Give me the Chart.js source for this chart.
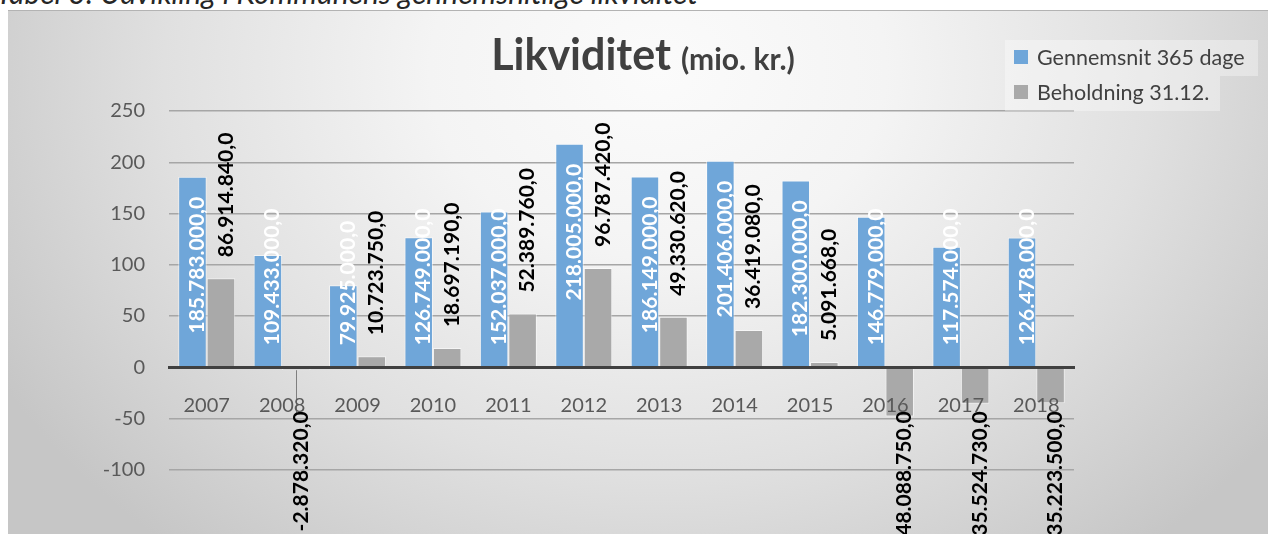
<!DOCTYPE html>
<html>
<head>
<meta charset="utf-8">
<script src="https://cdn.jsdelivr.net/npm/chart.js@4.4.0/dist/chart.umd.min.js"></script>
<style>
  html, body { margin: 0; padding: 0; width: 1268px; height: 534px; overflow: hidden; background: #fff; }
  #caption { position: absolute; left: -4px; top: -23px; font: italic 30px Lato, sans-serif; line-height: 30px; color: #262626; white-space: nowrap; }
  #bg { position: absolute; left: 8px; top: 10px; width: 1260px; height: 560px; border-top: 1px solid #b3b3b3;
        background: radial-gradient(ellipse 760px 620px at 650px 60px, #fbfbfb 0%, #f4f4f4 30%, #e0e0e0 65%, #c6c6c6 100%); }
  #wrap { position: absolute; left: 8px; top: 10px; width: 1260px; height: 560px; }
</style>
</head>
<body>
<div id="caption">Tabel 3: Udvikling i Kommunens gennemsnitlige likviditet</div>
<div id="bg"></div>
<div id="wrap"><canvas id="chart" width="1260" height="560"></canvas></div>
<script>
// --- Data (mio. kr.) ---
const years = ["2007", "2008", "2009", "2010", "2011", "2012", "2013", "2014", "2015", "2016", "2017", "2018"];
const avg365 = [185.783, 109.433, 79.925, 126.749, 152.037, 218.005, 186.149, 201.406, 182.3, 146.779, 117.574, 126.478];
const holding = [86.91484, -2.87832, 10.72375, 18.69719, 52.38976, 96.78742, 49.33062, 36.41908, 5.091668, -48.08875, -35.52473, -35.2235];
const yTicks = [250, 200, 150, 100, 50, 0, -50, -100];
const seriesNames = ["Gennemsnit 365 dage", "Beholdning 31.12."];
const seriesColors = ["#6fa6d9", "#a9a9a9"];
const titleMain = "Likviditet";
const titleSub = "(mio. kr.)";

const FONT = "Lato, sans-serif";

// mio. -> "185.783.000,0"
function fmtKr(v) {
  const n = Math.round(v * 1e6);
  const s = Math.abs(n).toString().replace(/\B(?=(\d{3})+(?!\d))/g, ".");
  return (n < 0 ? "-" : "") + s + ",0";
}

// --- Bar value labels (rotated, Excel style) + title + legend ---
const barLabels = {
  id: "barLabels",
  afterDatasetsDraw(chart) {
    const ctx = chart.ctx;
    const zeroY = chart.scales.y.getPixelForValue(0);
    ctx.save();
    ctx.font = "bold 21px " + FONT;
    ctx.textAlign = "left";
    ctx.textBaseline = "alphabetic";
    const capH = 21 * 0.72;
    chart.data.datasets.forEach((ds, di) => {
      chart.getDatasetMeta(di).data.forEach((bar, i) => {
        const v = ds.data[i];
        const txt = fmtKr(v);
        const w = ctx.measureText(txt).width;
        let start;
        if (di === 0) {
          // inside end, but keep clear of the axis
          start = Math.min(bar.y + 20 + w, zeroY - 22);
          ctx.fillStyle = "#ffffff";
        } else if (v >= 0) {
          start = bar.y - 21;
          ctx.fillStyle = "#000000";
        } else {
          const top = Math.max(bar.y - 13, zeroY + 44);
          if (top - bar.y > 20) {
            // leader line
            ctx.strokeStyle = "#7f7f7f";
            ctx.lineWidth = 1;
            ctx.beginPath();
            ctx.moveTo(Math.round(bar.x) + 0.5, bar.y);
            ctx.lineTo(Math.round(bar.x) + 0.5, top + 4);
            ctx.stroke();
          }
          start = top + w;
          ctx.fillStyle = "#000000";
        }
        ctx.save();
        ctx.translate(bar.x + 4 + capH / 2, start);
        ctx.rotate(-Math.PI / 2);
        ctx.fillText(txt, 0, 0);
        ctx.restore();
      });
    });
    ctx.restore();
  },
  afterDraw(chart) {
    const ctx = chart.ctx;
    ctx.save();
    // title (two sizes)
    ctx.fillStyle = "#404040";
    ctx.textBaseline = "alphabetic";
    ctx.textAlign = "left";
    ctx.font = "bold 43px " + FONT;
    const w1 = ctx.measureText(titleMain).width;
    ctx.font = "bold 30px " + FONT;
    const w2 = ctx.measureText(titleSub).width;
    const gap = 10;
    const x0 = 635 - (w1 + gap + w2) / 2;
    ctx.font = "bold 43px " + FONT;
    ctx.fillText(titleMain, x0, 60);
    ctx.font = "bold 30px " + FONT;
    ctx.fillText(titleSub, x0 + w1 + gap, 60);

    // legend
    ctx.fillStyle = "rgba(255,255,255,0.35)";
    ctx.fillRect(997, 30, 253, 36);
    ctx.fillRect(997, 66, 215, 35);
    ctx.font = "21.5px " + FONT;
    ctx.textBaseline = "middle";
    seriesNames.forEach((name, k) => {
      const cy = 47 + k * 35;
      ctx.fillStyle = seriesColors[k];
      ctx.fillRect(1006, cy - 7, 14, 14);
      ctx.fillStyle = "#404040";
      ctx.fillText(name, 1029, cy + 1);
    });
    ctx.restore();
  }
};

new Chart(document.getElementById("chart"), {
  type: "bar",
  data: {
    labels: years,
    datasets: [
      { label: seriesNames[0], data: avg365, backgroundColor: seriesColors[0], borderColor: "rgba(255,255,255,0.55)", borderWidth: 1 },
      { label: seriesNames[1], data: holding, backgroundColor: seriesColors[1], borderColor: "rgba(255,255,255,0.55)", borderWidth: 1 }
    ]
  },
  options: {
    responsive: false,
    animation: false,
    layout: { padding: { top: 101, right: 194, bottom: 50, left: 0 } },
    datasets: { bar: { categoryPercentage: 0.756, barPercentage: 1 } },
    plugins: { legend: { display: false }, title: { display: false }, tooltip: { enabled: false } },
    scales: {
      x: {
        position: { y: 0 },
        grid: { display: false, drawTicks: false },
        border: { color: "#404040", width: 3, z: 1 },
        ticks: { z: 1, color: "#595959", font: { family: FONT, size: 20 }, padding: 26, maxRotation: 0 },
        afterFit: s => { s.height = 0; }
      },
      y: {
        min: -149,
        max: 250,
        afterBuildTicks: s => { s.ticks = yTicks.map(v => ({ value: v })); },
        ticks: { color: "#595959", font: { family: FONT, size: 20 }, padding: 24 },
        grid: {
          drawTicks: false,
          color: c => c.tick && c.tick.value === 0 ? "rgba(0,0,0,0)" : "#a6a6a6",
          lineWidth: 1.5
        },
        border: { display: false },
        afterFit: s => { s.width = 161; }
      }
    }
  },
  plugins: [barLabels]
});
</script>
</body>
</html>
